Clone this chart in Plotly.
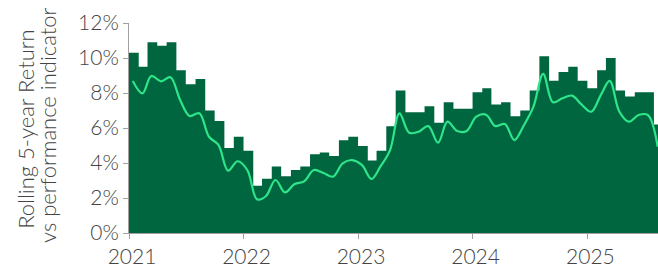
import pandas as pd
import plotly.graph_objects as go

months = pd.date_range("2021-01-01", "2025-08-01", freq="MS")

rolling_return = [
    10.3, 9.5, 10.9, 10.7, 10.9, 9.3, 8.5, 8.8, 7.0, 6.4, 4.86, 5.5,
    4.7, 2.7, 3.1, 3.8, 3.25, 3.6, 3.8, 4.5, 4.6, 4.4, 5.3, 5.5,
    4.97, 4.15, 4.7, 6.1, 8.15, 6.9, 6.9, 7.24, 6.3, 7.47, 7.1, 7.1,
    8.04, 8.27, 7.35, 7.47, 6.67, 7.0, 8.15, 10.1, 8.7, 9.2, 9.5, 8.7,
    8.27, 9.3, 10.0, 8.15, 7.8, 8.04, 8.04, 6.2,
]

performance_indicator = [
    8.69, 7.98, 8.97, 8.67, 8.9, 7.6, 6.69, 6.84, 5.5, 5.03, 3.56, 4.1,
    3.6, 1.93, 2.1, 3.03, 2.32, 2.8, 2.95, 3.6, 3.43, 3.22, 3.98, 4.17,
    3.89, 3.09, 3.79, 4.74, 6.84, 5.73, 5.79, 6.11, 5.16, 6.36, 5.83, 5.83,
    6.65, 6.76, 6.11, 6.23, 5.31, 6.17, 7.22, 9.09, 7.47, 7.7, 7.85, 7.35,
    6.93, 7.89, 8.69, 6.93, 6.36, 6.74, 6.74, 4.93,
]

tick_years = ["2021", "2022", "2023", "2024", "2025"]
y_ticks = [0, 2, 4, 6, 8, 10, 12]
title_lines = ["Rolling 5-year Return", "vs performance indicator"]

# step area: close the last month by repeating its value at the next month start
step_x = list(months) + [months[-1] + pd.offsets.MonthBegin(1)]
step_y = list(rolling_return) + [rolling_return[-1]]
line_x = months + pd.Timedelta(days=12)

DARK = "#00663F"
LIGHT = "#2EE58A"
TXT = "#444444"
AX = "#A0A0A0"
FONT = "Lato"

fig = go.Figure()
fig.add_trace(go.Scatter(
    x=step_x, y=step_y, mode="lines", line=dict(shape="hv", width=0, color=DARK),
    fill="tozeroy", fillcolor=DARK, hoverinfo="skip", showlegend=False,
))
fig.add_trace(go.Scatter(
    x=line_x, y=performance_indicator, mode="lines",
    line=dict(shape="spline", smoothing=1.0, width=2.2, color=LIGHT),
    showlegend=False,
))

fig.update_layout(
    width=658, height=270,
    margin=dict(l=129, r=0, t=23, b=37),
    paper_bgcolor="white", plot_bgcolor="white",
    font=dict(family=FONT, size=21, color=TXT, weight=300),
    xaxis=dict(
        automargin=False,
        range=[pd.Timestamp("2021-01-01"), pd.Timestamp("2025-08-14")],
        tickvals=[pd.Timestamp(y + "-01-01") for y in tick_years],
        ticktext=tick_years,
        showgrid=False, zeroline=False,
        showline=True, linecolor=AX, linewidth=1,
        ticks="outside", ticklen=5, tickcolor=AX,
        ticklabelshift=3,
        tickfont=dict(family=FONT, size=21, color=TXT, weight=300),
    ),
    yaxis=dict(
        automargin=False,
        range=[0, 12],
        tickvals=y_ticks,
        ticktext=[f"{v}%" for v in y_ticks],
        showgrid=False, zeroline=False,
        showline=True, linecolor=AX, linewidth=1,
        ticks="outside", ticklen=5, tickcolor=AX,
        tickfont=dict(family=FONT, size=21, color=TXT, weight=300),
    ),
)

for txt, xp, yp in zip(title_lines, [-0.197, -0.153], [0.495, 0.51]):
    fig.add_annotation(
        text=txt, xref="paper", yref="paper", x=xp, y=yp,
        xanchor="center", yanchor="middle", textangle=-90, showarrow=False,
        font=dict(family=FONT, size=22, color=TXT, weight=300),
    )

fig.write_html("out.html", post_script="document.body.style.margin='0';",
               config={"displayModeBar": False})
